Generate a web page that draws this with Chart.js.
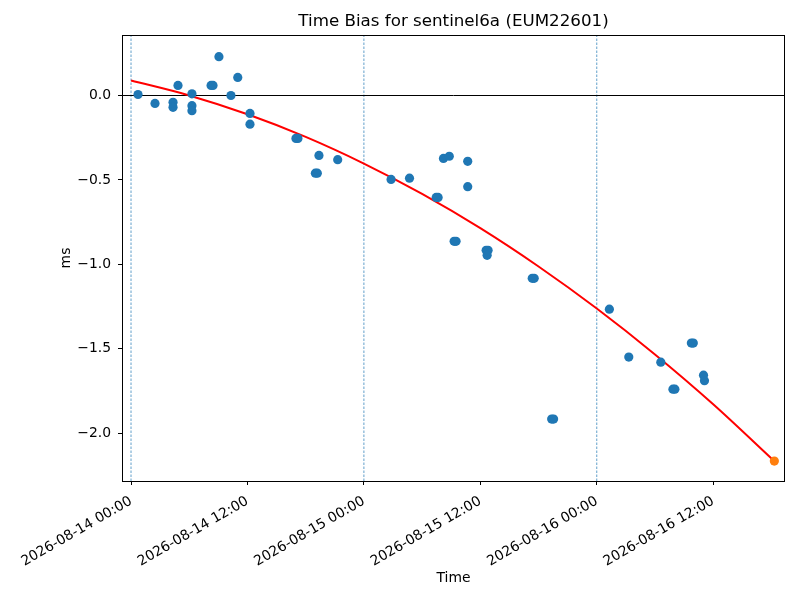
<!DOCTYPE html>
<html>
<head>
<meta charset="utf-8">
<script src="https://cdn.jsdelivr.net/npm/chart.js@4"></script>
<style>
  body { margin: 0; background: #fff; }
  canvas { display: block; }
</style>
</head>
<body>
<canvas id="chart" width="800" height="600"></canvas>
<script>
// hours since 2026-08-14 00:00 and time bias in ms
const pointHours = [0.72, 2.47, 4.33, 4.33, 4.84, 6.28, 6.28, 6.28, 8.25, 8.45,
  9.06, 10.3, 11.0, 12.26, 12.26,
  17.0, 17.2, 19.0, 19.2, 19.37, 21.3, 26.8, 28.7, 31.45, 31.65,
  32.2, 32.8, 33.3, 33.5, 34.7, 34.7,
  36.6, 36.8, 36.7, 41.35, 41.55, 43.35, 43.55,
  49.3, 51.3, 54.6, 55.85, 56.05, 57.75, 57.95, 59.0, 59.1];
const pointBias = [0.006, -0.047, -0.04, -0.07, 0.06, 0.01, -0.06, -0.09, 0.06, 0.06,
  0.23, 0.0, 0.107, -0.106, -0.17,
  -0.254, -0.254, -0.46, -0.46, -0.355, -0.38, -0.497, -0.49, -0.604, -0.604,
  -0.373, -0.36, -0.864, -0.864, -0.39, -0.54,
  -0.917, -0.917, -0.947, -1.083, -1.083, -1.917, -1.917,
  -1.266, -1.55, -1.58, -1.74, -1.74, -1.467, -1.467, -1.657, -1.69];

// fitted curve, sampled from the red line
const fitHours = [0, 6, 12, 18, 24, 30, 36, 42, 48, 54, 60, 66.3];
const fitBias = [0.089, 0.0005, -0.111, -0.245, -0.403, -0.583, -0.786, -1.013, -1.262, -1.534, -1.829, -2.166];

// last (predicted) point
const lastHours = [66.3];
const lastBias = [-2.166];

// day boundaries (dashed vertical lines)
const dayHours = [0, 24, 48];

const xRange = [-0.93, 67.4];
const yRange = [-2.284, 0.3585];

const xTickHours = [0, 12, 24, 36, 48, 60];
const xTickLabels = ["2026-08-14 00:00", "2026-08-14 12:00", "2026-08-15 00:00",
  "2026-08-15 12:00", "2026-08-16 00:00", "2026-08-16 12:00"];
const yTickValues = [0.0, -0.5, -1.0, -1.5, -2.0];
const yTickLabels = ["0.0", "\u22120.5", "\u22121.0", "\u22121.5", "\u22122.0"];

const toXY = (xs, ys) => xs.map((x, i) => ({x: x, y: ys[i]}));

Chart.defaults.font.family = "'DejaVu Sans', sans-serif";
Chart.defaults.color = "#000";

const datasets = [];
dayHours.forEach((h) => {
  datasets.push({
    data: [{x: h, y: yRange[0]}, {x: h, y: yRange[1]}],
    showLine: true, pointRadius: 0, borderColor: "#1f77b4",
    borderWidth: 0.7, borderDash: [2.5, 1.5], order: 5
  });
});
datasets.push({
  data: [{x: xRange[0], y: 0}, {x: xRange[1], y: 0}],
  showLine: true, pointRadius: 0, borderColor: "#000", borderWidth: 1, order: 4
});
datasets.push({
  data: toXY(fitHours, fitBias),
  showLine: true, pointRadius: 0, borderColor: "red", borderWidth: 2,
  cubicInterpolationMode: "monotone", order: 3
});
datasets.push({
  data: toXY(pointHours, pointBias),
  pointRadius: 4.6, pointBackgroundColor: "#1f77b4", pointBorderWidth: 0, order: 2
});
datasets.push({
  data: toXY(lastHours, lastBias),
  pointRadius: 4.6, pointBackgroundColor: "#ff7f0e", pointBorderWidth: 0, order: 1
});

const frame = {
  id: "frame",
  afterDraw(chart) {
    const a = chart.chartArea, ctx = chart.ctx;
    ctx.save();
    ctx.strokeStyle = "#000";
    ctx.lineWidth = 1;
    ctx.strokeRect(a.left + 0.5, a.top + 0.5, a.right - a.left - 1, a.bottom - a.top);
    ctx.fillStyle = "#000";
    ctx.font = "16.7px 'DejaVu Sans', sans-serif";
    ctx.textAlign = "center";
    ctx.textBaseline = "middle";
    ctx.fillText("Time Bias for sentinel6a (EUM22601)", (a.left + a.right) / 2, 22);
    ctx.restore();
  }
};

new Chart(document.getElementById("chart"), {
  type: "scatter",
  data: {datasets: datasets},
  options: {
    responsive: false,
    animation: false,
    devicePixelRatio: 1,
    layout: {padding: {top: 35, right: 15, left: 0, bottom: 0}},
    plugins: {legend: {display: false}, tooltip: {enabled: false}, title: {display: false}},
    scales: {
      x: {
        type: "linear", min: xRange[0], max: xRange[1],
        afterBuildTicks: (s) => { s.ticks = xTickHours.map((v) => ({value: v})); },
        afterFit: (s) => { s.height = 119; },
        grid: {drawOnChartArea: false, drawTicks: true, tickLength: 4, tickColor: "#000"},
        border: {display: false},
        ticks: {
          font: {size: 13.9}, padding: 8, minRotation: 30, maxRotation: 30, autoSkip: false,
          callback: (v) => xTickLabels[xTickHours.indexOf(v)]
        },
        title: {display: true, text: "Time", font: {size: 13.9}, padding: {top: 0, bottom: 13.6}}
      },
      y: {
        type: "linear", min: yRange[0], max: yRange[1],
        afterBuildTicks: (s) => { s.ticks = yTickValues.map((v) => ({value: v})); },
        afterFit: (s) => { s.width = 122; },
        grid: {drawOnChartArea: false, drawTicks: true, tickLength: 4, tickColor: "#000"},
        border: {display: false},
        ticks: {
          font: {size: 13.9}, padding: 7,
          callback: (v) => yTickLabels[yTickValues.indexOf(v)]
        },
        title: {display: true, text: "ms", font: {size: 13.9}, padding: {top: 57.6, bottom: 0}}
      }
    }
  },
  plugins: [frame]
});
</script>
</body>
</html>
